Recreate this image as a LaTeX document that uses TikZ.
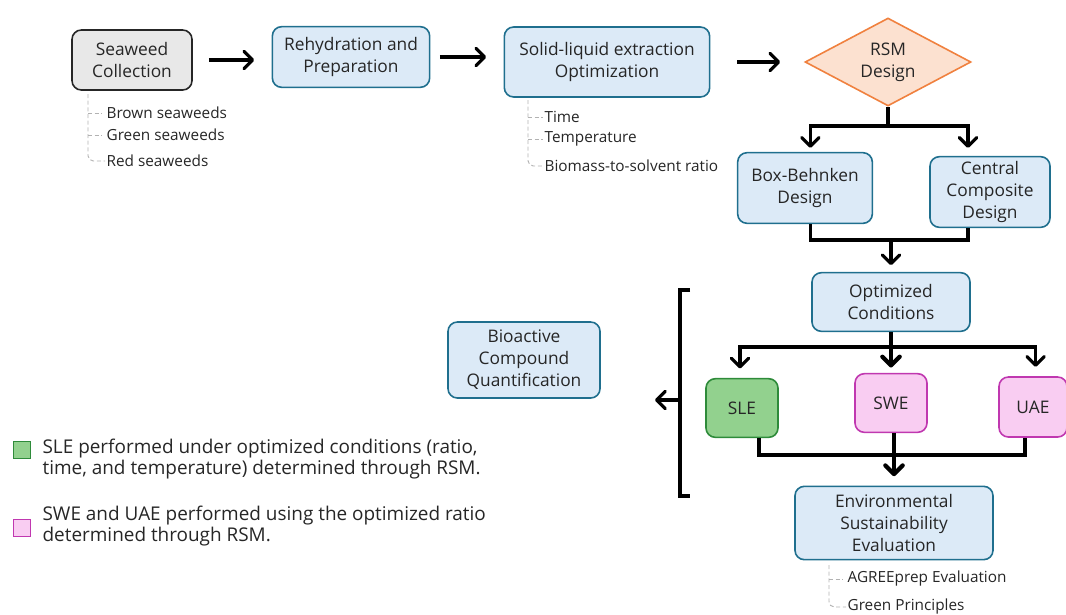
\documentclass[tikz,border=0pt]{standalone}
\usepackage{fontspec}
\setmainfont{Open Sans}
\usetikzlibrary{shapes.geometric,arrows.meta}
\definecolor{txt}{HTML}{262626}
\definecolor{bluefill}{HTML}{DCEAF7}
\definecolor{bluedraw}{HTML}{1F6F8E}
\definecolor{greyfill}{HTML}{E8E8E8}
\definecolor{greydraw}{HTML}{262626}
\definecolor{slefill}{HTML}{92D18E}
\definecolor{sledraw}{HTML}{2E8B3A}
\definecolor{pinkfill}{HTML}{F9CDF2}
\definecolor{pinkdraw}{HTML}{C038B0}
\definecolor{rsmfill}{HTML}{FCE1D0}
\definecolor{rsmdraw}{HTML}{F0813F}
\begin{document}
\begin{tikzpicture}[x=0.75pt,y=-0.75pt,text=txt,
  font=\fontsize{13}{16.5}\selectfont,
  box/.style={draw=bluedraw,fill=bluefill,rounded corners=7pt,line width=1.2pt,align=center,inner sep=2pt},
  greybox/.style={box,draw=greydraw,fill=greyfill},
  slebox/.style={box,draw=sledraw,fill=slefill},
  pinkbox/.style={box,draw=pinkdraw,fill=pinkfill},
  conn/.style={line width=2.4pt,draw=black},
  arr/.style={conn,-{Straight Barb[length=6.5pt,width=13pt,round]}},
  tree/.style={draw=gray!60,line width=0.7pt,dash pattern=on 3pt off 2pt},
  item/.style={anchor=west,inner sep=1pt,font=\fontsize{11.5}{13}\selectfont},
  legsq/.style={draw,line width=1pt,minimum size=13pt,inner sep=0pt},
  legtext/.style={anchor=west,align=left,inner sep=1pt,font=\fontsize{14.2}{16}\selectfont}]
\useasboundingbox (0,0) rectangle (1066,614);

\node[greybox,minimum width=90pt,minimum height=45pt] (sc) at (132,60) {Seaweed\\Collection};
\node[box,minimum width=118pt,minimum height=45.5pt] (rh) at (351,57) {Rehydration and\\Preparation};
\node[box,minimum width=154pt,minimum height=52.5pt] (sl) at (607,62) {Solid-liquid extraction\\Optimization};
\node[diamond,draw=rsmdraw,fill=rsmfill,line width=1.2pt,aspect=1.9,minimum width=124.5pt,minimum height=66pt,inner sep=0pt,align=center] (rsm) at (888,62) {RSM\\Design};
\node[box,minimum width=101pt,minimum height=53pt] (bb) at (805,188) {Box-Behnken\\Design};
\node[box,minimum width=90pt,minimum height=53pt] (cc) at (990,192) {Central\\Composite\\Design};
\node[box,minimum width=118.5pt,minimum height=44pt] (oc) at (891,302) {Optimized\\Conditions};
\node[slebox,minimum width=54pt,minimum height=44pt] (sle) at (742,408) {SLE};
\node[pinkbox,minimum width=54pt,minimum height=44pt] (swe) at (891,403) {SWE};
\node[pinkbox,minimum width=51pt,minimum height=45pt] (uae) at (1033,407) {UAE};
\node[box,minimum width=148.5pt,minimum height=55pt] (ese) at (894,523) {Environmental\\Sustainability\\Evaluation};
\node[box,minimum width=114pt,minimum height=57pt] (bcq) at (524,360) {Bioactive\\Compound\\Quantification};

\node[item] (brown) at (105,113) {Brown seaweeds};
\node[item] (green) at (105,135) {Green seaweeds};
\node[item] (red) at (105,161) {Red seaweeds};
\node[item] (time) at (543,117) {Time};
\node[item] (temp) at (543,139) {Temperature};
\node[item] (ratio) at (543,166) {Biomass-to-solvent ratio};
\node[item] (agree) at (846,579) {AGREEprep Evaluation};
\node[item] (gp) at (846,607) {Green Principles};

\coordinate (t1) at (88,94);
\coordinate (t2) at (528,100);
\coordinate (t3) at (829,565);
\draw[tree,rounded corners=4pt] (t1) |- (red.west);
\draw[tree] (t1 |- brown.west) -- ([xshift=-2pt]brown.west);
\draw[tree] (t1 |- green.west) -- ([xshift=-2pt]green.west);
\draw[tree,rounded corners=4pt] (t2) |- (ratio.west);
\draw[tree] (t2 |- time.west) -- (time.west);
\draw[tree] (t2 |- temp.west) -- (temp.west);
\draw[tree,rounded corners=4pt] (t3) |- (gp.west);
\draw[tree] (t3 |- agree.west) -- ([xshift=-2pt]agree.west);

\draw[arr,shorten <=12pt,shorten >=13pt] (sc.east) -- (rh.west |- sc.east);
\draw[arr,shorten <=7pt,shorten >=13pt] (rh.east) -- (sl.west |- rh.east);
\draw[arr,shorten <=20pt,shorten >=18pt] (sl.east |- rsm) -- (rsm);

\coordinate (j1) at (888,126);
\coordinate (j2) at (891,240);
\coordinate (j3) at (891,347);
\coordinate (j4) at (894,455);
\draw[conn] (rsm.south) -- (j1);
\draw[arr,shorten >=3pt] (j1) -| ([xshift=4pt]bb.north);
\draw[arr,shorten >=6pt] (j1) -| ([xshift=-16.5pt]cc.north);
\draw[conn] ([xshift=4pt]bb.south) |- (j2);
\draw[conn] ([xshift=-16.5pt]cc.south) |- (j2);
\draw[arr,shorten >=5pt] (j2) -- (oc.north);
\draw[conn,line width=3.2pt] (oc.south) -- (j3);
\draw[arr,shorten >=7pt] (j3) -| ([xshift=-1.5pt]sle.north);
\draw[arr,line width=3.2pt,shorten >=4pt] (j3) -- (swe.north);
\draw[arr,shorten >=7pt] (j3) -| ([xshift=2pt]uae.north);
\draw[conn] ([xshift=12.75pt]sle.south) |- (j4);
\draw[conn] ([xshift=-6pt]uae.south) |- (j4);
\draw[conn,line width=3.2pt] ([xshift=2.25pt]swe.south) -- (j4);
\draw[arr,line width=3.2pt,shorten >=7pt] (j4) -- (ese.north);

\draw[conn] (690,290) -- (680,290) -- (680,496) -- (690,496);
\coordinate (bk) at (680,400);
\coordinate (bkend) at (655,400);
\draw[arr] (bk) -- (bkend);

\node[legsq,draw=sledraw,fill=slefill] (k1) at (22,450) {};
\node[legtext] (l1) at (41,459) {SLE performed under optimized conditions (ratio,\\time, and temperature) determined through RSM.};
\node[legsq,draw=pinkdraw,fill=pinkfill] (k2) at (22,528) {};
\node[legtext] (l2) at (41,526) {SWE and UAE performed using the optimized ratio\\determined through RSM.};
\end{tikzpicture}
\end{document}
